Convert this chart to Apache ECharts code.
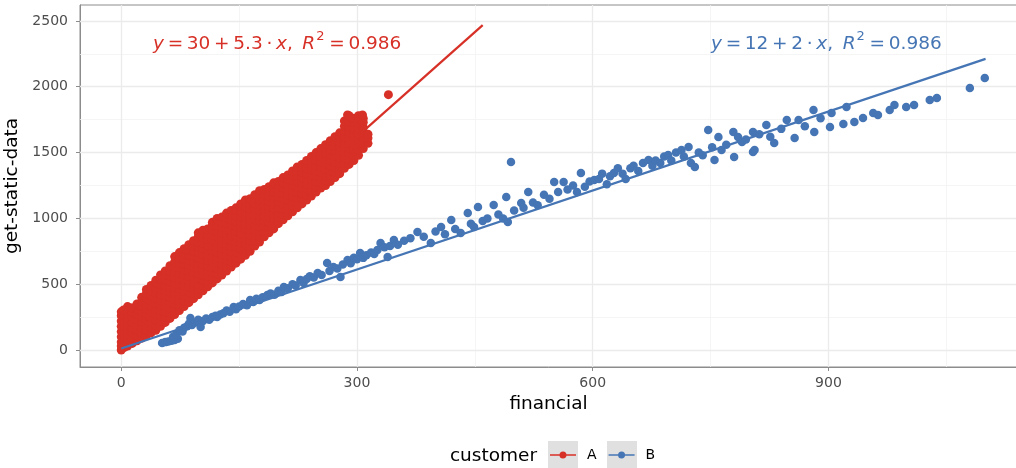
<!DOCTYPE html>
<html><head><meta charset="utf-8">
<script src="https://cdn.jsdelivr.net/npm/echarts@6/dist/echarts.min.js"></script>
<style>html,body{margin:0;padding:0;background:#fff}#c{width:1016px;height:468px}</style>
</head><body><div id="c"></div>
<script>
// ---- data ----
const xTicks = [0, 300, 600, 900];
const xMinorTicks = [150, 450, 750, 1050];
const yTicks = [0, 500, 1000, 1500, 2000, 2500];
const yMinorTicks = [250, 750, 1250, 1750, 2250];
const seriesNames = ['A', 'B'];
const legendTitle = 'customer';
const xTitle = 'financial';
const yTitle = 'get-static-data';
const fitA = [[0, 30], [460, 2468]];
const fitB = [[0, 12], [1100, 2212]];
const labelA = ['30', '5.3', '0.986'];
const labelB = ['12', '2', '0.986'];
// customer A: dense cloud, columns of [financial, [get-static-data ...]]
const redColumns = [
 [0,[0,30,60,100,140,180,220,260,290]],
 [4,[20,60,100,140,180,220,260,300]],
 [8,[30,70,110,150,190,230,270,310,330]],
 [14,[50,90,130,170,210,250,290,320]],
 [20,[70,110,150,190,230,270,310,350]],
 [26,[90,130,170,210,250,290,330,370,400]],
 [32,[110,150,190,230,270,310,350,390,430,460]],
 [38,[130,170,210,250,290,330,370,410,450,490]],
 [44,[150,190,230,270,310,350,390,430,470,510,530]],
 [50,[180,220,260,300,340,380,420,460,500,540,570]],
 [56,[210,250,290,330,370,410,450,490,530,570,600]],
 [62,[240,280,320,360,400,440,480,520,560,600,640]],
 [68,[270,310,350,390,430,470,510,550,590,630,670,710]],
 [74,[300,340,380,420,460,500,540,580,620,660,700,740]],
 [80,[330,370,410,450,490,530,570,610,650,690,730,770]],
 [86,[360,400,440,480,520,560,600,640,680,720,760,800]],
 [92,[390,430,470,510,550,590,630,670,710,750,790,830]],
 [98,[420,460,500,540,580,620,660,700,740,780,820,860,890]],
 [104,[450,490,530,570,610,650,690,730,770,810,850,890,910]],
 [110,[480,520,560,600,640,680,720,760,800,840,880,920]],
 [116,[510,550,590,630,670,710,750,790,830,870,910,950,970]],
 [122,[540,580,620,660,700,740,780,820,860,900,940,980,1000]],
 [128,[570,610,650,690,730,770,810,850,890,930,970,1010]],
 [134,[600,640,680,720,760,800,840,880,920,960,1000,1040]],
 [140,[630,670,710,750,790,830,870,910,950,990,1030,1060]],
 [146,[660,700,740,780,820,860,900,940,980,1020,1060,1080]],
 [152,[690,730,770,810,850,890,930,970,1010,1050,1090,1110]],
 [158,[720,760,800,840,880,920,960,1000,1040,1080,1120,1140]],
 [164,[750,790,830,870,910,950,990,1030,1070,1110,1150]],
 [170,[790,830,870,910,950,990,1030,1070,1110,1150,1180]],
 [176,[820,860,900,940,980,1020,1060,1100,1140,1180,1210]],
 [182,[860,900,940,980,1020,1060,1100,1140,1180,1220]],
 [188,[890,930,970,1010,1050,1090,1130,1170,1210,1240]],
 [194,[920,960,1000,1040,1080,1120,1160,1200,1240,1270]],
 [200,[960,1000,1040,1080,1120,1160,1200,1240,1280]],
 [206,[990,1030,1070,1110,1150,1190,1230,1270,1310]],
 [212,[1020,1060,1100,1140,1180,1220,1260,1300,1330]],
 [218,[1050,1090,1130,1170,1210,1250,1290,1330,1360]],
 [224,[1080,1120,1160,1200,1240,1280,1320,1360,1390]],
 [230,[1110,1150,1190,1230,1270,1310,1350,1390,1410]],
 [236,[1140,1180,1220,1260,1300,1340,1380,1420,1440]],
 [242,[1170,1210,1250,1290,1330,1370,1410,1450,1470]],
 [248,[1200,1240,1280,1320,1360,1400,1440,1480,1500]],
 [254,[1230,1270,1310,1350,1390,1430,1470,1510,1530]],
 [260,[1250,1290,1330,1370,1410,1450,1490,1530,1560]],
 [266,[1280,1320,1360,1400,1440,1480,1520,1560,1590]],
 [272,[1310,1350,1390,1430,1470,1510,1550,1590,1620]],
 [278,[1340,1380,1420,1460,1500,1540,1580,1620,1650]],
 [284,[1380,1420,1460,1500,1540,1580,1620,1660,1700,1740]],
 [290,[1410,1450,1490,1530,1570,1610,1650,1690,1730,1780]],
 [296,[1440,1480,1520,1560,1600,1640,1680,1720,1760]],
 [302,[1480,1520,1560,1600,1640,1680,1720,1760,1780]],
 [308,[1530,1570,1610,1650,1690,1730,1760]],
 [314,[1570,1610,1640]]
];
const redExtra = [[192,920],[340,1940],[288,1786],[307,1786],[3,304],[12,320]];
// customer B: individual points [financial, get-static-data]
const bluePoints = [
 [52,53],[56,60],[60,65],[64,70],[68,76],[72,85],[66,100],[70,120],[74,150],[78,140],[80,170],[84,180],
 [88,243],[86,200],[90,190],[94,210],[98,230],[101,175],[104,220],[108,240],[112,230],[116,250],[120,260],
 [122,251],[126,270],[130,280],[134,300],[138,290],[143,327],[146,310],[150,330],[155,350],[160,340],
 [164,380],[168,365],[172,390],[176,380],[180,400],[186,418],[190,430],[195,420],[200,450],[204,440],
 [207,479],[212,470],[218,500],[222,490],[228,532],[232,510],[236,540],[240,560],[245,550],[250,585],
 [255,570],[262,661],[265,600],[270,631],[275,620],[279,555],[282,650],[288,684],[292,660],[296,700],
 [300,690],[304,737],[308,700],[312,720],[318,740],[322,730],[326,760],[330,813],[335,780],[339,707],
 [342,790],[347,836],[352,800],[360,830],[368,850],[377,897],[385,860],[394,813],[400,900],[407,935],
 [412,880],[420,988],[425,920],[432,889],[441,1041],[445,960],[449,935],[454,1087],[460,980],[466,1000],
 [474,1102],[480,1030],[486,1000],[490,1163],[492,973],[496,1429],[500,1060],[509,1117],[512,1080],
 [518,1201],[524,1120],[530,1100],[538,1180],[545,1150],[551,1277],[556,1200],[563,1277],[568,1220],
 [575,1250],[580,1200],[585,1345],[590,1240],[596,1280],[602,1292],[608,1300],[612,1340],[618,1260],
 [622,1320],[627,1345],[632,1380],[638,1340],[642,1300],[648,1380],[652,1400],[658,1360],[664,1420],
 [671,1444],[676,1400],[680,1440],[686,1420],[691,1470],[696,1482],[700,1440],[706,1500],[713,1520],
 [716,1470],[722,1543],[725,1421],[730,1391],[735,1500],[740,1480],[747,1672],[752,1540],[755,1444],
 [760,1619],[764,1520],[770,1560],[779,1657],[780,1467],[785,1619],[790,1580],[795,1600],[804,1657],
 [804,1505],[806,1520],[812,1640],[821,1710],[826,1620],[831,1573],[840,1680],[847,1748],[857,1611],
 [862,1748],[870,1700],[881,1824],[882,1657],[890,1760],[902,1695],[904,1801],[919,1717],[923,1847],
 [933,1733],[944,1763],[957,1801],[963,1786],[978,1824],[984,1862],[999,1847],[1009,1862],[1029,1900],
 [1038,1915],[1080,1991],[1099,2067]
];

// ---- build ----
const redPoints = [];
redColumns.forEach(c => c[1].forEach(v => redPoints.push([c[0], v])));
redExtra.forEach(p => redPoints.push(p));

const RED = '#D73027', BLUE = '#4575B4';
const FONT = 'DejaVu Sans';
const grid = {left: 80, right: -1, top: 5, bottom: 101};
const gridMarks = [];
xMinorTicks.forEach(v => gridMarks.push({xAxis: v, lineStyle: {color: '#F2F2F2', width: 0.8, type: 'solid'}}));
yMinorTicks.forEach(v => gridMarks.push({yAxis: v, lineStyle: {color: '#F2F2F2', width: 0.8, type: 'solid'}}));
xTicks.forEach(v => gridMarks.push({xAxis: v, lineStyle: {color: '#EBEBEB', width: 1.3, type: 'solid'}}));
yTicks.forEach(v => gridMarks.push({yAxis: v, lineStyle: {color: '#EBEBEB', width: 1.3, type: 'solid'}}));

const legendIcon = 'path://M2,4.2H28V5.8H2Z M15,1.5A3.5,3.5 0 1,1 14.99,1.5Z';
const TS = '\u2009';
function eqText(v) {
  return '{i|y}{n|' + TS + '=' + TS + v[0] + TS + '+' + TS + v[1] + TS + '·' + TS + '}{i|x}{n|, ' + TS + '}{i|R}{s|2}{n|' + TS + '=' + TS + v[2] + '}';
}
function eqRich(color) {
  return {
    i: {fontFamily: FONT, fontSize: 18.5, fontStyle: 'italic', fill: color, verticalAlign: 'bottom', lineHeight: 24},
    n: {fontFamily: FONT, fontSize: 18.5, fill: color, verticalAlign: 'bottom', lineHeight: 24},
    s: {fontFamily: FONT, fontSize: 13, fill: color, verticalAlign: 'top', lineHeight: 24, padding: [0, 1, 0, 1]}
  };
}
const fmt = v => String(v);

const chart = echarts.init(document.getElementById('c'), null, {renderer: 'canvas'});
chart.setOption({
  animation: false,
  backgroundColor: '#fff',
  grid: Object.assign({show: true, borderColor: '#8C8C8C', borderWidth: 1, backgroundColor: 'transparent', containLabel: false, outerBoundsMode: 'none'}, grid),
  xAxis: {
    type: 'value', min: -52.5, max: 1140,
    name: xTitle, nameLocation: 'middle', nameGap: 26,
    nameTextStyle: {fontFamily: FONT, fontSize: 18.5, color: '#000'},
    axisLine: {show: true, onZero: false, lineStyle: {color: '#8C8C8C', width: 1}},
    axisTick: {show: true, length: 4, customValues: xTicks, lineStyle: {color: '#8C8C8C'}},
    axisLabel: {customValues: xTicks, formatter: fmt, margin: 9, fontFamily: FONT, fontSize: 14, color: '#4D4D4D'},
    splitLine: {show: false}
  },
  yAxis: {
    type: 'value', min: -129, max: 2621,
    name: yTitle, nameLocation: 'middle', nameGap: 42,
    nameTextStyle: {fontFamily: FONT, fontSize: 18.5, color: '#000'},
    axisLine: {show: true, onZero: false, lineStyle: {color: '#8C8C8C', width: 1}},
    axisTick: {show: true, length: 4, customValues: yTicks, lineStyle: {color: '#8C8C8C'}},
    axisLabel: {customValues: yTicks, formatter: fmt, margin: 12, fontFamily: FONT, fontSize: 14, color: '#4D4D4D'},
    splitLine: {show: false}
  },
  legend: {
    data: seriesNames, left: 550, top: 446, orient: 'horizontal', padding: 0,
    itemWidth: 26, itemHeight: 7, itemGap: 12, icon: legendIcon,
    textStyle: {fontFamily: FONT, fontSize: 14, color: '#000', lineHeight: 18, padding: [0, 0, 0, 6]},
    selectedMode: false
  },
  graphic: [
    {type: 'rect', left: 548, top: 441, shape: {width: 30, height: 30}, style: {fill: '#E0E0E0'}, z: -1},
    {type: 'rect', left: 607, top: 441, shape: {width: 30, height: 30}, style: {fill: '#E0E0E0'}, z: -1},
    {type: 'text', right: 1016 - 537, top: 447, style: {text: legendTitle, fontFamily: FONT, fontSize: 18.5, fill: '#000'}},
    {type: 'text', left: 153, top: 30, zlevel: 1, z: 10, style: {text: eqText(labelA), rich: eqRich(RED)}},
    {type: 'text', left: 711, top: 30, zlevel: 1, z: 10, style: {text: eqText(labelB), rich: eqRich(BLUE)}}
  ],
  series: [
    {type: 'line', name: 'grid', data: [], silent: true, z: 0, zlevel: 0,
     markLine: {silent: true, symbol: ['none', 'none'], label: {show: false}, animation: false, data: gridMarks}},
    {type: 'scatter', name: seriesNames[0], data: redPoints, symbolSize: 9, itemStyle: {color: RED, opacity: 1}, z: 2, zlevel: 1},
    {type: 'scatter', name: seriesNames[1], data: bluePoints, symbolSize: 8.5, itemStyle: {color: BLUE, opacity: 1}, z: 2, zlevel: 1},
    {type: 'line', name: 'fitA', data: fitA, showSymbol: false, symbol: 'none', lineStyle: {color: RED, width: 2.2}, z: 3, zlevel: 1},
    {type: 'line', name: 'fitB', data: fitB, showSymbol: false, symbol: 'none', lineStyle: {color: BLUE, width: 2.2}, z: 3, zlevel: 1}
  ]
});
</script></body></html>
